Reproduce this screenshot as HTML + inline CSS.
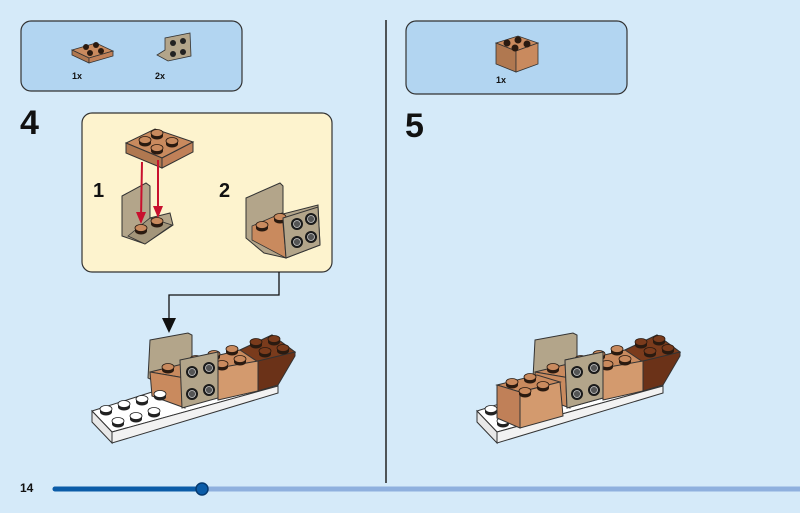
<!DOCTYPE html>
<html><head><meta charset="utf-8"><style>
html,body{margin:0;padding:0;background:#d5eaf9;width:800px;height:513px;overflow:hidden;font-family:"Liberation Sans",sans-serif}
</style></head><body>
<svg width="800" height="513" viewBox="0 0 800 513" xmlns="http://www.w3.org/2000/svg" font-family="Liberation Sans, sans-serif">
<defs>
<g id="st"><ellipse cx="0" cy="2" rx="6" ry="3.5" fill="#2a1a10"/><rect x="-6" y="-1" width="12" height="3" fill="#2a1a10"/><ellipse cx="0" cy="-1" rx="6" ry="3.5" fill="#c98a5e" stroke="#2a1a10" stroke-width="0.8"/></g>
<g id="stw"><ellipse cx="0" cy="2" rx="6" ry="3.5" fill="#222"/><rect x="-6" y="-1" width="12" height="3" fill="#222"/><ellipse cx="0" cy="-1" rx="6" ry="3.5" fill="#fff" stroke="#222" stroke-width="0.8"/></g>
<g id="std"><ellipse cx="0" cy="2" rx="6" ry="3.5" fill="#2a1a10"/><rect x="-6" y="-1" width="12" height="3" fill="#2a1a10"/><ellipse cx="0" cy="-1" rx="6" ry="3.5" fill="#7a3b1c" stroke="#2a1a10" stroke-width="0.8"/></g>
<g id="sf"><circle r="6" fill="#1a1a1a"/><circle r="3.5" fill="#555" stroke="#ccc" stroke-width="0.8"/></g>
<g id="model">
 <!-- white plate -->
 <polygon points="92,411 152,392 278,381 278,386 112,432" fill="#fff" stroke="#333" stroke-width="1"/>
 <polygon points="92,411 112,432 112,443 92,422" fill="#e8e8e8" stroke="#333" stroke-width="1"/>
 <polygon points="112,432 278,386 278,393 112,443" fill="#f2f2f2" stroke="#333" stroke-width="1"/>
 <!-- tan back plate -->
 <polygon points="150,340 188,333 192,335 192,372 152,380 148,378" fill="#b3a58a" stroke="#333" stroke-width="1"/>
 <!-- brick top -->
 <polygon points="150,372 240,350 272,335 295,352 258,362 218,370 185,378" fill="#c98a5e" stroke="#333" stroke-width="1"/>
 <polygon points="240,350 272,335 295,352 258,362" fill="#7a3b1c" stroke="#333" stroke-width="1"/>
 <!-- left brick front -->
 <polygon points="150,372 185,378 185,408 152,396" fill="#c98a5e" stroke="#333" stroke-width="1"/>
 <!-- middle brick front -->
 <polygon points="218,368 258,361 258,391 218,400" fill="#d39a6e" stroke="#333" stroke-width="1"/>
 <!-- dark wedge -->
 <polygon points="258,361 295,352 295,356 278,385 258,391" fill="#6b3218" stroke="#333" stroke-width="1"/>
 <use href="#st" x="168" y="368"/><use href="#st" x="196" y="360"/><use href="#st" x="214" y="355"/>
 <use href="#st" x="232" y="350"/><use href="#st" x="240" y="360"/><use href="#st" x="222" y="365"/>
 <use href="#std" x="256" y="343"/><use href="#std" x="265" y="352"/><use href="#std" x="274" y="340"/><use href="#std" x="283" y="349"/>
 <!-- bracket -->
 <polygon points="180,360 218,352 218,398 182,408" fill="#b3a58a" stroke="#333" stroke-width="1"/>
 <use href="#sf" x="192" y="372"/><use href="#sf" x="209" y="368"/><use href="#sf" x="192" y="394"/><use href="#sf" x="209" y="390"/>
 <use href="#stw" x="106" y="410"/><use href="#stw" x="124" y="405"/><use href="#stw" x="142" y="400"/><use href="#stw" x="160" y="395"/>
 <use href="#stw" x="118" y="422"/><use href="#stw" x="136" y="417"/><use href="#stw" x="154" y="412"/>
</g>
</defs>

<!-- step 4 parts box -->
<rect x="21" y="21" width="221" height="70" rx="10" fill="#b2d5f1" stroke="#333" stroke-width="1.2"/>
<polygon points="72,50 96,43 113,51 89,58" fill="#c98a5e" stroke="#333" stroke-width="0.8"/>
<polygon points="72,50 89,58 89,63 72,55" fill="#b07850" stroke="#333" stroke-width="0.8"/>
<polygon points="89,58 113,51 113,56 89,63" fill="#c08058" stroke="#333" stroke-width="0.8"/>
<circle cx="86" cy="47" r="3" fill="#2a1a10"/><circle cx="96" cy="45" r="3" fill="#2a1a10"/><circle cx="90" cy="53" r="3" fill="#2a1a10"/><circle cx="101" cy="51" r="3" fill="#2a1a10"/>
<polygon points="157,55 165,50 165,38 190,33 191,56 168,61" fill="#b3a58a" stroke="#333" stroke-width="0.8"/>
<circle cx="173" cy="43" r="3" fill="#222"/><circle cx="183" cy="41" r="3" fill="#222"/><circle cx="173" cy="54" r="3" fill="#222"/><circle cx="183" cy="52" r="3" fill="#222"/>
<text x="72" y="79" font-size="9" font-weight="bold" fill="#111">1x</text>
<text x="155" y="79" font-size="9" font-weight="bold" fill="#111">2x</text>
<text x="20" y="134" font-size="34" font-weight="bold" fill="#111">4</text>

<!-- callout -->
<rect x="82" y="113" width="250" height="159" rx="10" fill="#fdf3ce" stroke="#333" stroke-width="1.2"/>
<text x="93" y="197" font-size="20" font-weight="bold" fill="#111">1</text>
<text x="219" y="197" font-size="20" font-weight="bold" fill="#111">2</text>
<polygon points="126,143 155,129 193,142 162,158" fill="#c98a5e" stroke="#333" stroke-width="1"/>
<polygon points="126,143 162,158 162,168 126,153" fill="#b07850" stroke="#333" stroke-width="1"/>
<polygon points="162,158 193,142 193,152 162,168" fill="#c08058" stroke="#333" stroke-width="1"/>
<use href="#st" x="145" y="141"/><use href="#st" x="157" y="134"/><use href="#st" x="157" y="149"/><use href="#st" x="172" y="142"/>
<polygon points="122,196 146,183 150,186 150,218 170,213 173,225 145,244 122,236" fill="#b3a58a" stroke="#333" stroke-width="1"/>
<polygon points="128,236 150,218 172,225 145,244" fill="#a3957a" stroke="#333" stroke-width="0.8"/>
<use href="#st" x="141" y="229"/><use href="#st" x="157" y="222"/>
<line x1="142" y1="162" x2="141" y2="218" stroke="#c8102e" stroke-width="2"/>
<polygon points="136,212 146,212 141,224" fill="#c8102e"/>
<line x1="158" y1="160" x2="158" y2="212" stroke="#c8102e" stroke-width="2"/>
<polygon points="153,206 163,206 158,218" fill="#c8102e"/>
<polygon points="246,198 280,183 283,186 283,214 318,205 320,245 286,258 264,253 246,238" fill="#b3a58a" stroke="#333" stroke-width="1"/>
<polygon points="252,226 282,213 286,258 252,240" fill="#c98a5e" stroke="#333" stroke-width="0.8"/>
<use href="#st" x="262" y="226"/><use href="#st" x="280" y="218"/>
<polygon points="283,218 318,207 320,245 286,258" fill="#b3a58a" stroke="#333" stroke-width="1"/>
<use href="#sf" x="297" y="224"/><use href="#sf" x="311" y="219"/><use href="#sf" x="297" y="242"/><use href="#sf" x="311" y="237"/>

<!-- connector -->
<polyline points="279,272 279,295 169,295 169,322" fill="none" stroke="#111" stroke-width="1.3"/>
<polygon points="162,318 176,318 169,333" fill="#111"/>

<use href="#model"/>

<!-- divider -->
<line x1="386" y1="20" x2="386" y2="483" stroke="#222" stroke-width="1.5"/>

<!-- step 5 parts -->
<rect x="406" y="21" width="221" height="73" rx="10" fill="#b2d5f1" stroke="#333" stroke-width="1.2"/>
<polygon points="496,43 518,36 538,43 516,51" fill="#c98a5e" stroke="#333" stroke-width="0.8"/>
<polygon points="496,43 516,51 516,72 496,64" fill="#b07850" stroke="#333" stroke-width="0.8"/>
<polygon points="516,51 538,43 538,64 516,72" fill="#c98a5e" stroke="#333" stroke-width="0.8"/>
<circle cx="507" cy="43" r="3.5" fill="#2a1a10"/><circle cx="518" cy="40" r="3.5" fill="#2a1a10"/><circle cx="515" cy="48" r="3.5" fill="#2a1a10"/><circle cx="527" cy="44" r="3.5" fill="#2a1a10"/>
<text x="496" y="83" font-size="9" font-weight="bold" fill="#111">1x</text>
<text x="405" y="137" font-size="34" font-weight="bold" fill="#111">5</text>

<g transform="translate(385,0)"><use href="#model"/>
 <polygon points="112,385 152,375 175,382 135,392" fill="#c98a5e" stroke="#333" stroke-width="1"/>
 <polygon points="112,385 135,392 135,428 112,418" fill="#c08058" stroke="#333" stroke-width="1"/>
 <polygon points="135,392 175,382 178,416 135,428" fill="#d39a6e" stroke="#333" stroke-width="1"/>
 <use href="#st" x="127" y="383"/><use href="#st" x="145" y="378"/><use href="#st" x="140" y="392"/><use href="#st" x="158" y="386"/>
 <polygon points="180,360 218,352 218,398 182,408" fill="#b3a58a" stroke="#333" stroke-width="1"/>
 <use href="#sf" x="192" y="372"/><use href="#sf" x="209" y="368"/><use href="#sf" x="192" y="394"/><use href="#sf" x="209" y="390"/>
</g>

<!-- footer -->
<text x="20" y="492" font-size="12" font-weight="bold" fill="#111">14</text>
<line x1="55" y1="489" x2="800" y2="489" stroke="#8fb0de" stroke-width="5" stroke-linecap="round"/>
<line x1="55" y1="489" x2="202" y2="489" stroke="#0b5ca8" stroke-width="5" stroke-linecap="round"/>
<circle cx="202" cy="489" r="6" fill="#0b5ca8" stroke="#063a70" stroke-width="1.5"/>
</svg>
</body></html>
